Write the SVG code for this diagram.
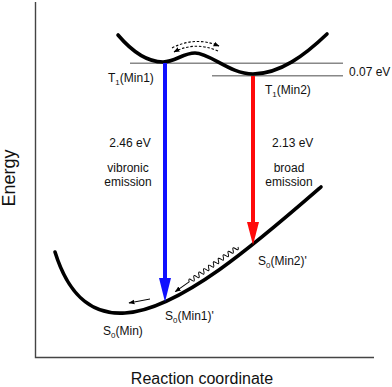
<svg xmlns="http://www.w3.org/2000/svg" width="392" height="387" viewBox="0 0 392 387">
<defs>
<style>
.t{font-family:"Liberation Sans",Arial,sans-serif;font-size:12px;fill:#111}
.ax{font-family:"Liberation Sans",Arial,sans-serif;font-size:16px;fill:#111}
.curve{fill:none;stroke:#000;stroke-width:3.6;stroke-linecap:round}
.lvl{stroke:#888;stroke-width:1.4}
.axis{stroke:#444;stroke-width:1.4;fill:none}
.thin{fill:none;stroke:#000;stroke-width:1}
.dash{fill:none;stroke:#000;stroke-width:1.1;stroke-dasharray:2.5 1.8}
</style>
<marker id="ah" viewBox="0 0 10 10" refX="9" refY="5" markerWidth="6" markerHeight="6" markerUnits="userSpaceOnUse" orient="auto">
<path d="M0,1 L10,5 L0,9 z" fill="#000"/>
</marker>
</defs>
<rect width="392" height="387" fill="#fff"/>
<g id="axes">
<path class="axis" d="M35.5,2 V357.5 H374"/>
<text class="ax" x="202" y="384" text-anchor="middle">Reaction coordinate</text>
<text class="ax" style="font-size:18px" transform="translate(15,178) rotate(-90)" text-anchor="middle">Energy</text>
</g>
<g id="levels">
<line class="lvl" x1="130" y1="63.3" x2="343" y2="63.3"/>
<line class="lvl" x1="212" y1="75.7" x2="343" y2="75.7"/>
<text class="t" x="349" y="76">0.07 eV</text>
</g>
<g id="T1">
<path class="curve" d="M118,35 C135,55 150,62 163,62 C175,62 183,53 195,53 C210,53 230,74 253,74 C280,74 305,55 327,34"/>
<text class="t" x="108" y="82">T<tspan font-size="8" dy="3">1</tspan><tspan dy="-3">(Min1)</tspan></text>
<text class="t" x="265" y="94">T<tspan font-size="8" dy="3">1</tspan><tspan dy="-3">(Min2)</tspan></text>
</g>
<g id="S0">
<path class="curve" d="M55,252 C70,300 95,315 125,313 C180,310 260,240 321,187"/>
<text class="t" x="103" y="335">S<tspan font-size="8" dy="3">0</tspan><tspan dy="-3">(Min)</tspan></text>
<text class="t" x="165" y="320">S<tspan font-size="8" dy="3">0</tspan><tspan dy="-3">(Min1)'</tspan></text>
<text class="t" x="258" y="265">S<tspan font-size="8" dy="3">0</tspan><tspan dy="-3">(Min2)'</tspan></text>
</g>
<g id="connectors">
<g id="blue-emission">
<line x1="165" y1="63" x2="165" y2="280" stroke="#1010ff" stroke-width="4"/>
<polygon points="159,278 171,278 165,302" fill="#1010ff"/>
</g>
<g id="red-emission">
<line x1="253" y1="76" x2="253" y2="224" stroke="#ff0a0a" stroke-width="4"/>
<polygon points="247,222 259,222 253,245" fill="#ff0a0a"/>
</g>
<path class="dash" d="M172,48 Q195,36 219,46" marker-end="url(#ah)"/>
<path class="dash" d="M218,51 Q195,41 174,52" marker-end="url(#ah)"/>
<path class="thin" transform="translate(238,247) rotate(144.5)" d="M0,0 q1.5,-4.4 3,0 q1.5,4.4 3,0 q1.5,-4.4 3,0 q1.5,4.4 3,0 q1.5,-4.4 3,0 q1.5,4.4 3,0 q1.5,-4.4 3,0 q1.5,4.4 3,0 q1.5,-4.4 3,0 q1.5,4.4 3,0 q1.5,-4.4 3,0 q1.5,4.4 3,0 q1.5,-4.4 3,0 q1.5,4.4 3,0 q1.5,-4.4 3,0 q1.5,4.4 3,0 q1.5,-4.4 3,0 q1.5,4.4 3,0 q1.5,-4.4 3,0 q1.5,4.4 3,0 L77,0" marker-end="url(#ah)"/>
<line class="thin" x1="150" y1="299" x2="129" y2="303" marker-end="url(#ah)"/>
</g>
<g id="labels">
<text class="t" x="130" y="147" text-anchor="middle">2.46 eV</text>
<text class="t" x="128" y="172" text-anchor="middle">vibronic</text>
<text class="t" x="128" y="186" text-anchor="middle">emission</text>
<text class="t" x="272" y="147">2.13 eV</text>
<text class="t" x="289" y="172" text-anchor="middle">broad</text>
<text class="t" x="289" y="186" text-anchor="middle">emission</text>
</g>
</svg>
